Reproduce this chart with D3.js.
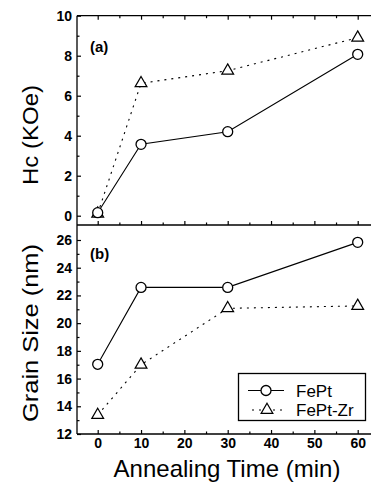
<!DOCTYPE html>
<html><head><meta charset="utf-8">
<script src="https://cdn.jsdelivr.net/npm/d3@7"></script>
<style>
body{margin:0;background:#fff;}
svg{display:block;font-family:"Liberation Sans",Arial,sans-serif;}
</style></head>
<body>
<script>
const times = [0, 10, 30, 60];
const hcFePt = [0.15, 3.57, 4.2, 8.07];
const hcFePtZr = [0.1, 6.62, 7.25, 8.9];
const gsFePt = [17.03, 22.58, 22.58, 25.83];
const gsFePtZr = [13.37, 17.0, 21.07, 21.24];
const xTicks = [0, 10, 20, 30, 40, 50, 60];
const xMinor = [5, 15, 25, 35, 45, 55, 65];
const hcTicks = [0, 2, 4, 6, 8, 10];
const hcMinor = [1, 3, 5, 7, 9];
const gsTicks = [12, 14, 16, 18, 20, 22, 24, 26];
const gsMinor = [13, 15, 17, 19, 21, 23, 25];
const seriesNames = ["FePt", "FePt-Zr"];

const W = 371, H = 487;
const svg = d3.select("body").append("svg").attr("width", W).attr("height", H);

const x = d3.scaleLinear().domain([0, 60]).range([97.7, 357.7]);
const xLeft = 77, xRight = W + 5;
const yA = d3.scaleLinear().domain([0, 10]).range([215.7, 15.7]);
const yB = d3.scaleLinear().domain([12, 26]).range([434, 240]);
const topA = 15.7, midY = 225, botB = 434;

// frames
const frame = svg.append("g").attr("stroke", "#000").attr("stroke-width", 1.3).attr("fill", "none");
frame.append("line").attr("x1", xLeft).attr("x2", xRight).attr("y1", topA).attr("y2", topA);
frame.append("line").attr("x1", xLeft).attr("x2", xRight).attr("y1", midY).attr("y2", midY).attr("stroke-width", 1.6);
frame.append("line").attr("x1", xLeft).attr("x2", xRight).attr("y1", botB).attr("y2", botB).attr("stroke-width", 1.6);
frame.append("line").attr("x1", xLeft).attr("x2", xLeft).attr("y1", topA).attr("y2", botB);

function styleAxis(g) {
  g.select(".domain").remove();
  g.selectAll("line").attr("stroke", "#000").attr("stroke-width", 1.2);
  g.selectAll("text").attr("fill", "#000").attr("font-weight", "bold").attr("font-size", 14);
}

svg.append("g").attr("transform", `translate(0,${topA})`)
  .call(d3.axisTop(x).tickValues(xTicks).tickSize(-4).tickFormat("")).call(styleAxis);
svg.append("g").attr("transform", `translate(0,${topA})`)
  .call(d3.axisTop(x).tickValues(xMinor).tickSize(-2.5).tickFormat("")).call(styleAxis);
svg.append("g").attr("transform", `translate(0,${midY})`)
  .call(d3.axisBottom(x).tickValues(xTicks).tickSize(-4).tickFormat("")).call(styleAxis);
svg.append("g").attr("transform", `translate(0,${midY})`)
  .call(d3.axisBottom(x).tickValues(xMinor).tickSize(-2.5).tickFormat("")).call(styleAxis);
const xb = svg.append("g").attr("transform", `translate(0,${botB})`)
  .call(d3.axisBottom(x).tickValues(xTicks).tickSize(-4).tickFormat(d3.format("d"))).call(styleAxis);
xb.selectAll("text").attr("dy", "0.71em").attr("y", 4);
svg.append("g").attr("transform", `translate(0,${botB})`)
  .call(d3.axisBottom(x).tickValues(xMinor).tickSize(-2.5).tickFormat("")).call(styleAxis);

const ya = svg.append("g").attr("transform", `translate(${xLeft},0)`)
  .call(d3.axisLeft(yA).tickValues(hcTicks).tickSize(-4).tickFormat(d3.format("d"))).call(styleAxis);
svg.append("g").attr("transform", `translate(${xLeft},0)`)
  .call(d3.axisLeft(yA).tickValues(hcMinor).tickSize(-2.5).tickFormat("")).call(styleAxis);
const yb = svg.append("g").attr("transform", `translate(${xLeft},0)`)
  .call(d3.axisLeft(yB).tickValues(gsTicks).tickSize(-4).tickFormat(d3.format("d"))).call(styleAxis);
svg.append("g").attr("transform", `translate(${xLeft},0)`)
  .call(d3.axisLeft(yB).tickValues(gsMinor).tickSize(-2.5).tickFormat("")).call(styleAxis);
ya.selectAll("text").attr("x", -5);
yb.selectAll("text").attr("x", -5);

// axis titles
svg.append("text").attr("transform", "translate(38,135) rotate(-90)")
  .attr("text-anchor", "middle").attr("font-size", 22)
  .attr("textLength", 100).attr("lengthAdjust", "spacingAndGlyphs").text("Hc (KOe)");
svg.append("text").attr("transform", "translate(38,333) rotate(-90)")
  .attr("text-anchor", "middle").attr("font-size", 22)
  .attr("textLength", 178).attr("lengthAdjust", "spacingAndGlyphs").text("Grain Size (nm)");
svg.append("text").attr("x", 227).attr("y", 477)
  .attr("text-anchor", "middle").attr("font-size", 24).text("Annealing Time (min)");

// panel labels
svg.append("text").attr("x", 90).attr("y", 52).attr("font-size", 15).attr("font-weight", "bold").text("(a)");
svg.append("text").attr("x", 90).attr("y", 259).attr("font-size", 15).attr("font-weight", "bold").text("(b)");

const dashZr = "2,5";
function drawSeries(vals, yS, isTri) {
  const pts = times.map((t, i) => [x(t), yS(vals[i])]);
  svg.append("path").datum(pts)
    .attr("d", d3.line())
    .attr("fill", "none").attr("stroke", "#000")
    .attr("stroke-width", 1.1)
    .attr("stroke-dasharray", isTri ? dashZr : null);
  const g = svg.append("g");
  if (isTri) {
    g.selectAll("path").data(pts).join("path")
      .attr("d", d3.symbol(d3.symbolTriangle, 60))
      .attr("transform", d => `translate(${d[0]},${d[1]})`)
      .attr("fill", "#fff").attr("stroke", "#000").attr("stroke-width", 1.2);
  } else {
    g.selectAll("circle").data(pts).join("circle")
      .attr("cx", d => d[0]).attr("cy", d => d[1]).attr("r", 5)
      .attr("fill", "#fff").attr("stroke", "#000").attr("stroke-width", 1.3);
  }
}
drawSeries(hcFePtZr, yA, true);
drawSeries(hcFePt, yA, false);
drawSeries(gsFePtZr, yB, true);
drawSeries(gsFePt, yB, false);

// legend
const lg = svg.append("g");
lg.append("rect").attr("x", 238.5).attr("y", 373.5).attr("width", 127).attr("height", 47)
  .attr("fill", "#fff").attr("stroke", "#000").attr("stroke-width", 1.3);
const legY = [390.5, 410];
lg.append("line").attr("x1", 248).attr("x2", 284).attr("y1", legY[0]).attr("y2", legY[0]).attr("stroke", "#000").attr("stroke-width", 1.1);
lg.append("circle").attr("cx", 266).attr("cy", legY[0]).attr("r", 5).attr("fill", "#fff").attr("stroke", "#000").attr("stroke-width", 1.3);
lg.append("line").attr("x1", 252).attr("x2", 284).attr("y1", legY[1]).attr("y2", legY[1]).attr("stroke", "#000").attr("stroke-width", 1.1).attr("stroke-dasharray", dashZr);
lg.append("path").attr("d", d3.symbol(d3.symbolTriangle, 60)).attr("transform", `translate(267,${legY[1]})`)
  .attr("fill", "#fff").attr("stroke", "#000").attr("stroke-width", 1.2);
seriesNames.forEach((n, i) => {
  lg.append("text").attr("x", 296).attr("y", legY[i] + 6).attr("font-size", 17).text(n);
});
</script>
</body></html>
